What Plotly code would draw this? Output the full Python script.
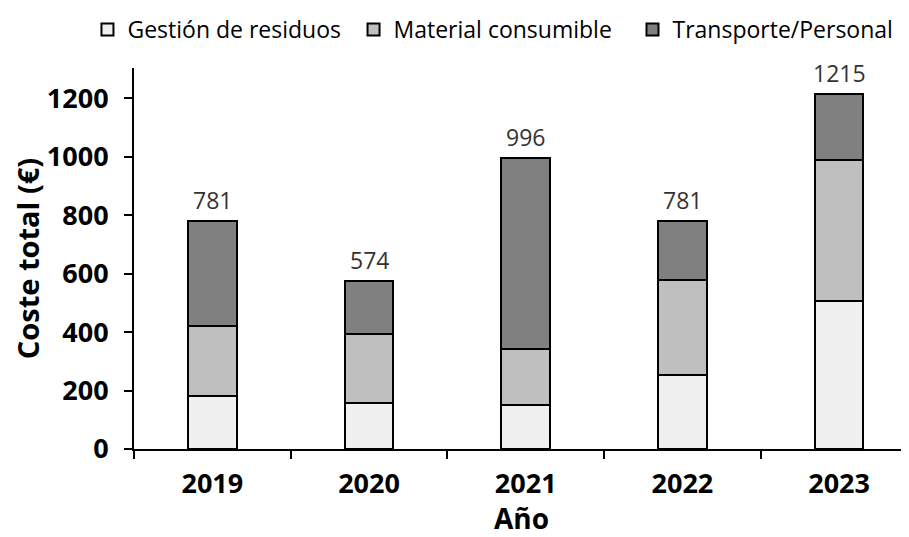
import plotly.graph_objects as go

years = ["2019", "2020", "2021", "2022", "2023"]
gestion = [181, 156, 152, 254, 508]
material = [239, 237, 191, 323, 481]
transporte = [361, 181, 653, 204, 226]
totals = [g + m + t for g, m, t in zip(gestion, material, transporte)]

series = [
    ("Gestión de residuos", gestion, "#f0f0f0"),
    ("Material consumible", material, "#bfbfbf"),
    ("Transporte/Personal", transporte, "#808080"),
]

font = "Open Sans, sans-serif"

fig = go.Figure()
# one legend per series so each entry sits where the reference puts it
legend_ids = ["legend", "legend2", "legend3"]
legend_x = [0.0882, 0.3835, 0.6931]
for (name, vals, col), lg in zip(series, legend_ids):
    fig.add_trace(go.Bar(
        x=years, y=vals, name=name, legend=lg, showlegend=True,
        marker=dict(color=col, line=dict(color="black", width=2)),
    ))

# totals above each bar (category index, a numeric-looking name would be read as index)
for i, tot in enumerate(totals):
    fig.add_annotation(x=i, y=tot, text=str(tot), showarrow=False,
                       yanchor="bottom", yshift=3,
                       font=dict(family=font, size=23, color="#333333"))

# page body adds 8px, so the figure is 8px smaller than the window
fig.update_layout(
    width=901, height=529,
    margin=dict(l=126, r=0, t=60, b=88, autoexpand=False),
    barmode="stack", bargap=0.69, showlegend=True,
    plot_bgcolor="white", paper_bgcolor="white",
    font=dict(family=font, color="black"),
)
for lg, lx in zip(legend_ids, legend_x):
    fig.update_layout({lg: dict(orientation="h", xref="container", yref="container",
                                x=lx, y=1.0, xanchor="left", yanchor="top",
                                font=dict(size=23), itemwidth=30, visible=True)})

fig.update_xaxes(
    type="category", range=[-0.5, 4.446],
    showline=True, linecolor="black", linewidth=2,
    ticks="outside", ticklen=8, tickwidth=2, tickcolor="black",
    tickson="boundaries", ticklabelstandoff=10,
    tickfont=dict(size=27, family=font, weight="bold"),
    title=dict(text="<b>Año</b>", font=dict(size=28), standoff=6),
)
fig.update_yaxes(
    range=[0, 1304], tickvals=[0, 200, 400, 600, 800, 1000, 1200],
    showline=True, linecolor="black", linewidth=2, showgrid=False,
    zeroline=False,
    ticks="outside", ticklen=8, tickwidth=2, tickcolor="black",
    ticklabelstandoff=10,
    tickfont=dict(size=27, family=font, weight="bold"),
    title=dict(text="<b>Coste total (€)</b>", font=dict(size=29), standoff=2),
)

fig.write_html("out.html")
